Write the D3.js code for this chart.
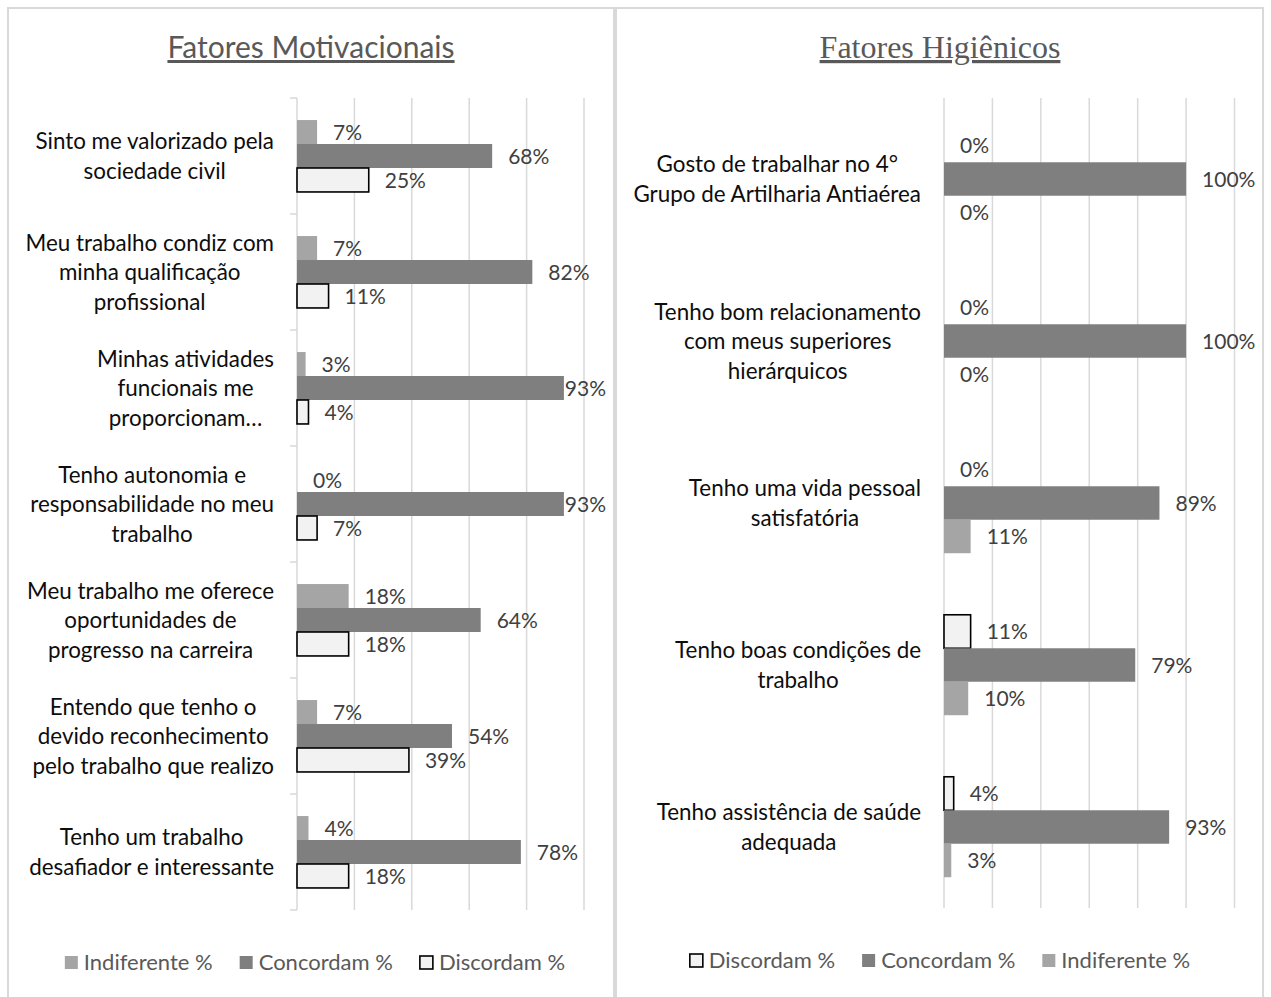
<!DOCTYPE html>
<html>
<head>
<meta charset="utf-8">
<script src="https://cdn.jsdelivr.net/npm/d3@7"></script>
<style>
  body { margin: 0; background: #fff; }
  text { font-family: Lato, "Noto Sans", sans-serif; }
</style>
</head>
<body>
<div id="chart"></div>
<script>
const width = 1271;
const height = 997;

// Fatores Motivacionais (left)
const motivCategories = [
  ["Sinto me valorizado pela", "sociedade civil"],
  ["Meu trabalho condiz com", "minha qualificação", "profissional"],
  ["Minhas atividades", "funcionais me", "proporcionam…"],
  ["Tenho autonomia e", "responsabilidade no meu", "trabalho"],
  ["Meu trabalho me oferece", "oportunidades de", "progresso na carreira"],
  ["Entendo que tenho o", "devido reconhecimento", "pelo trabalho que realizo"],
  ["Tenho um trabalho", "desafiador e interessante"]
];
const motivIndiferente = [7, 7, 3, 0, 18, 7, 4];
const motivConcordam = [68, 82, 93, 93, 64, 54, 78];
const motivDiscordam = [25, 11, 4, 7, 18, 39, 18];
const motivTicks = [0, 20, 40, 60, 80, 100];

// Fatores Higiênicos (right)
const higCategories = [
  ["Gosto de trabalhar no 4°", "Grupo de Artilharia Antiaérea"],
  ["Tenho bom relacionamento", "com meus superiores", "hierárquicos"],
  ["Tenho uma vida pessoal", "satisfatória"],
  ["Tenho boas condições de", "trabalho"],
  ["Tenho assistência de saúde", "adequada"]
];
const higDiscordam = [0, 0, 0, 11, 4];
const higConcordam = [100, 100, 89, 79, 93];
const higIndiferente = [0, 0, 11, 10, 3];
const higTicks = [0, 20, 40, 60, 80, 100, 120];

const colors = {
  "Indiferente %": "#a5a5a5",
  "Concordam %": "#7f7f7f",
  "Discordam %": "#f2f2f2"
};

const svg = d3.select("#chart")
  .append("svg")
  .attr("width", width)
  .attr("height", height);

function drawPanel(opt) {
  const g = svg.append("g");

  // panel frame
  g.append("rect")
    .attr("x", opt.frame[0])
    .attr("y", 8)
    .attr("width", opt.frame[1] - opt.frame[0])
    .attr("height", 1010)
    .attr("fill", "none")
    .attr("stroke", "#d9d9d9")
    .attr("stroke-width", 2);

  // title
  g.append("text")
    .attr("x", opt.titleX)
    .attr("y", 58)
    .attr("text-anchor", "middle")
    .attr("font-size", opt.titleSize + "px")
    .attr("fill", "#595959")
    .attr("text-decoration", "underline")
    .style("font-family", opt.titleFont)
    .text(opt.title);

  const x = d3.scaleLinear()
    .domain([0, d3.max(opt.ticks)])
    .range([opt.x0, opt.x1]);

  const y = d3.scaleBand()
    .domain(d3.range(opt.categories.length))
    .range([opt.y0, opt.y1])
    .paddingInner(0.38)
    .paddingOuter(0.19);

  const ySub = d3.scaleBand()
    .domain(opt.series.map(function(s) { return s.name; }))
    .range([0, y.bandwidth()]);

  // gridlines
  g.selectAll(".grid")
    .data(opt.ticks)
    .enter()
    .append("line")
    .attr("x1", function(d) { return x(d); })
    .attr("x2", function(d) { return x(d); })
    .attr("y1", opt.y0)
    .attr("y2", opt.y1)
    .attr("stroke", "#d9d9d9")
    .attr("stroke-width", 1.5);

  // category ticks on the axis
  if (opt.catTicks) {
    g.selectAll(".ctick")
      .data(d3.range(opt.categories.length + 1))
      .enter()
      .append("line")
      .attr("x1", x(0) - 7)
      .attr("x2", x(0))
      .attr("y1", function(i) { return opt.y0 + i * y.step(); })
      .attr("y2", function(i) { return opt.y0 + i * y.step(); })
      .attr("stroke", "#d9d9d9")
      .attr("stroke-width", 1.5);
  }

  // bars
  let rows = [];
  opt.series.forEach(function(s) {
    s.values.forEach(function(v, i) {
      rows.push({ name: s.name, cat: i, value: v });
    });
  });

  g.selectAll(".bar")
    .data(rows)
    .enter()
    .append("rect")
    .attr("x", x(0))
    .attr("y", function(d) { return y(d.cat) + ySub(d.name); })
    .attr("width", function(d) { return x(d.value) - x(0); })
    .attr("height", ySub.bandwidth())
    .attr("fill", function(d) { return colors[d.name]; })
    .attr("stroke", function(d) { return d.name === "Discordam %" && d.value > 0 ? "#000" : "none"; })
    .attr("stroke-width", 1.6);

  // value labels, pulled back inside the panel when they would overflow
  g.selectAll(".val")
    .data(rows)
    .enter()
    .append("text")
    .attr("y", function(d) { return y(d.cat) + ySub(d.name) + ySub.bandwidth() / 2; })
    .attr("dy", "0.36em")
    .attr("font-size", "21px")
    .attr("fill", "#404040")
    .text(function(d) { return d.value + "%"; })
    .attr("x", function(d) {
      const w = this.getComputedTextLength();
      return Math.min(x(d.value) + 16, opt.labelMax - w);
    });

  // category labels, each block centred on its own widest line
  opt.categories.forEach(function(lines, i) {
    const lh = 29.5;
    const cy = y(i) + y.bandwidth() / 2;
    const t = g.append("text")
      .attr("font-size", "22.4px")
      .attr("fill", "#0d0d0d")
      .attr("text-anchor", "middle");
    lines.forEach(function(line, j) {
      t.append("tspan")
        .attr("y", cy + (j - (lines.length - 1) / 2) * lh)
        .attr("dy", "0.36em")
        .text(line);
    });
    let maxW = 0;
    t.selectAll("tspan").each(function() {
      maxW = Math.max(maxW, this.getComputedTextLength());
    });
    t.selectAll("tspan").attr("x", x(0) - 23 - maxW / 2);
  });

  // legend
  const leg = g.append("g");
  let cx = 0;
  opt.legend.forEach(function(name) {
    const item = leg.append("g").attr("transform", "translate(" + cx + ",0)");
    item.append("rect")
      .attr("x", 0)
      .attr("y", -14)
      .attr("width", 13)
      .attr("height", 13)
      .attr("fill", colors[name])
      .attr("stroke", name === "Discordam %" ? "#000" : "none")
      .attr("stroke-width", 1.6);
    const txt = item.append("text")
      .attr("x", 19)
      .attr("y", 0)
      .attr("font-size", "22px")
      .attr("fill", "#595959")
      .text(name);
    cx += 19 + txt.node().getComputedTextLength() + 27;
  });
  const legW = cx - 27;
  leg.attr("transform", "translate(" + (opt.legendX - legW / 2) + "," + opt.legendY + ")");
}

drawPanel({
  frame: [8, 614],
  title: "Fatores Motivacionais",
  titleX: 311,
  titleSize: 30,
  titleFont: "Lato, sans-serif",
  categories: motivCategories,
  series: [
    { name: "Indiferente %", values: motivIndiferente },
    { name: "Concordam %", values: motivConcordam },
    { name: "Discordam %", values: motivDiscordam }
  ],
  ticks: motivTicks,
  x0: 297, x1: 584,
  y0: 98, y1: 910,
  labelMax: 606,
  catTicks: true,
  legend: ["Indiferente %", "Concordam %", "Discordam %"],
  legendX: 315,
  legendY: 970
});

drawPanel({
  frame: [616, 1263],
  title: "Fatores Higiênicos",
  titleX: 940,
  titleSize: 32,
  titleFont: "'Liberation Serif', 'DejaVu Serif', serif",
  categories: higCategories,
  series: [
    { name: "Discordam %", values: higDiscordam },
    { name: "Concordam %", values: higConcordam },
    { name: "Indiferente %", values: higIndiferente }
  ],
  ticks: higTicks,
  x0: 944, x1: 1234.5,
  y0: 98, y1: 908,
  labelMax: 1258,
  catTicks: false,
  legend: ["Discordam %", "Concordam %", "Indiferente %"],
  legendX: 940,
  legendY: 968
});
</script>
</body>
</html>
